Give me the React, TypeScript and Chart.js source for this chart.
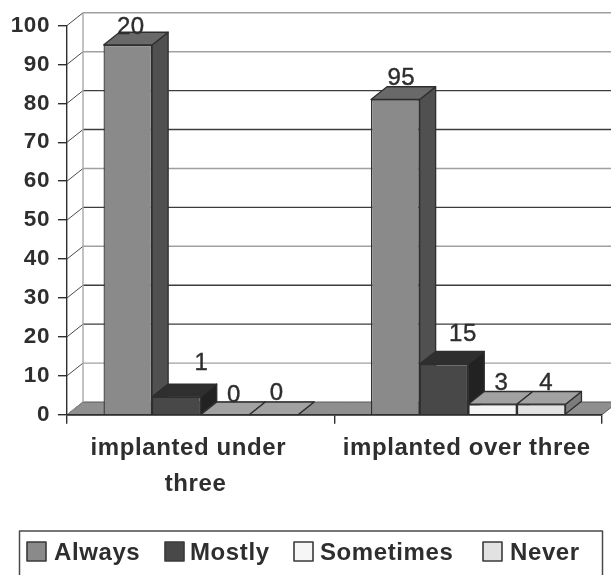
import React, { useEffect, useRef } from "react";
import { Chart, registerables } from "chart.js";

Chart.register(...registerables);

const categories = [["implanted under   ", "three "], "implanted over three"];
const seriesNames = ["Always", "Mostly", "Sometimes", "Never"];
const always = [95, 81];
const mostly = [4.6, 13];
const sometimes = [0, 2.7];
const never = [0, 2.7];
const alwaysCounts = ["20", "95"];
const mostlyCounts = ["1", "15"];
const sometimesCounts = ["0", "3"];
const neverCounts = ["0", "4"];
const yTicks = [0, 10, 20, 30, 40, 50, 60, 70, 80, 90, 100];

const FONT = "'Liberation Sans', Arial, sans-serif";
const INK = "#2e2e2e";
const DEPTH_X = 16;
const DEPTH_Y = 12.7;
const faces = [
  { front: "#8a8a8a", top: "#696969", side: "#505050" },
  { front: "#484848", top: "#2f2f2f", side: "#222222" },
  { front: "#f6f6f6", top: "#a2a2a2", side: "#7c7c7c" },
  { front: "#e2e2e2", top: "#a2a2a2", side: "#7c7c7c" },
];
const gridColor = (v: number) => ([100, 90, 60, 40, 10].includes(v) ? "#a0a0a0" : "#3c3c3c");
const nudges: Record<string, [number, number]> = {
  "0-0": [3, -18], "1-0": [25, -33], "2-0": [9, -19], "3-0": [3, -21],
  "0-1": [6, -21], "1-1": [19, -30], "2-1": [9, -21], "3-1": [5, -21],
};
const legendSlots = [
  { box: 27, text: 54 }, { box: 165, text: 190 }, { box: 294, text: 320 }, { box: 483, text: 510 },
];

function poly(ctx: CanvasRenderingContext2D, pts: number[][], fill: string, stroke = INK, lw = 1.3) {
  ctx.beginPath();
  pts.forEach(([x, y], i) => (i ? ctx.lineTo(x, y) : ctx.moveTo(x, y)));
  ctx.closePath();
  ctx.fillStyle = fill;
  ctx.fill();
  ctx.strokeStyle = stroke;
  ctx.lineWidth = lw;
  ctx.stroke();
}

const walls3d = {
  id: "walls3d",
  beforeDraw(chart: any) {
    chart.ctx.letterSpacing = "0.6px";
  },
  beforeDatasetsDraw(chart: any) {
    const { ctx, chartArea: a, scales } = chart;
    const y = scales.y;
    ctx.save();
    ctx.lineCap = "butt";
    const y0 = y.getPixelForValue(0);
    poly(ctx, [[a.left, y0], [a.right, y0], [a.right + DEPTH_X, y0 - DEPTH_Y], [a.left + DEPTH_X, y0 - DEPTH_Y]], "#8f8f8f", "#5a5a5a", 1);
    yTicks.forEach((v) => {
      const p = y.getPixelForValue(v);
      if (v > 0) {
        ctx.strokeStyle = gridColor(v);
        ctx.lineWidth = 1.4;
        ctx.beginPath();
        ctx.moveTo(a.left + DEPTH_X, p - DEPTH_Y);
        ctx.lineTo(a.right + DEPTH_X, p - DEPTH_Y);
        ctx.stroke();
      }
      ctx.strokeStyle = v === 0 ? "#8a8a8a" : "#4a4a4a";
      ctx.lineWidth = 1;
      ctx.beginPath();
      ctx.moveTo(a.left, p);
      ctx.lineTo(a.left + DEPTH_X, p - DEPTH_Y);
      ctx.stroke();
    });
    ctx.strokeStyle = "#a8a8a8";
    ctx.lineWidth = 1.4;
    ctx.beginPath();
    ctx.moveTo(a.left + DEPTH_X, y.getPixelForValue(100) - DEPTH_Y);
    ctx.lineTo(a.left + DEPTH_X, y0 - DEPTH_Y);
    ctx.stroke();
    ctx.restore();
  },
  // the library would paint the series last-to-first; 3D bars need first-to-last
  beforeDatasetDraw() {
    return false;
  },
  afterDatasetsDraw(chart: any) {
    const { ctx, scales } = chart;
    const counts = [alwaysCounts, mostlyCounts, sometimesCounts, neverCounts];
    ctx.save();
    ctx.lineJoin = "round";
    seriesNames.forEach((_, i) => {
      const meta = chart.getDatasetMeta(i);
      const f = faces[i];
      meta.data.forEach((bar: any) => {
        const l = bar.x - bar.width / 2;
        const r = bar.x + bar.width / 2;
        const t = bar.y;
        const b = bar.base;
        poly(ctx, [[r, t], [r + DEPTH_X, t - DEPTH_Y], [r + DEPTH_X, b - DEPTH_Y], [r, b]], f.side);
        poly(ctx, [[l, t], [r, t], [r + DEPTH_X, t - DEPTH_Y], [l + DEPTH_X, t - DEPTH_Y]], f.top);
      });
      meta.controller.draw();
    });
    // front baseline of the floor
    ctx.strokeStyle = INK;
    ctx.lineWidth = 1.4;
    ctx.beginPath();
    ctx.moveTo(chart.chartArea.left, scales.y.getPixelForValue(0));
    ctx.lineTo(chart.chartArea.right, scales.y.getPixelForValue(0));
    ctx.stroke();
    // value labels
    ctx.font = `24px ${FONT}`;
    ctx.textAlign = "center";
    ctx.textBaseline = "middle";
    ctx.fillStyle = INK;
    ctx.strokeStyle = INK;
    ctx.lineWidth = 0.4;
    counts.forEach((list, s) => {
      const meta = chart.getDatasetMeta(s);
      list.forEach((label, c) => {
        const [dx, dy] = nudges[`${s}-${c}`];
        ctx.fillText(label, meta.data[c].x + dx, meta.data[c].y + dy);
        ctx.strokeText(label, meta.data[c].x + dx, meta.data[c].y + dy);
      });
    });
    // legend
    const top = 531;
    ctx.strokeStyle = "#4a4a4a";
    ctx.lineWidth = 1.5;
    ctx.strokeRect(19.5, top, 583, 60);
    ctx.font = `bold 24px ${FONT}`;
    ctx.textAlign = "left";
    seriesNames.forEach((name, i) => {
      const s = legendSlots[i];
      ctx.fillStyle = faces[i].front;
      ctx.strokeStyle = "#3a3a3a";
      ctx.lineWidth = 1.6;
      ctx.fillRect(s.box, 542, 19, 19);
      ctx.strokeRect(s.box, 542, 19, 19);
      ctx.fillStyle = INK;
      ctx.fillText(name, s.text, 553);
    });
    ctx.restore();
  },
};

export default function App() {
  const ref = useRef<HTMLCanvasElement>(null);
  useEffect(() => {
    const values = [always, mostly, sometimes, never];
    const chart = new Chart(ref.current!, {
      type: "bar",
      data: {
        labels: categories as any,
        datasets: seriesNames.map((label, i) => ({
          label,
          data: values[i],
          backgroundColor: faces[i].front,
          borderColor: INK,
          borderWidth: 1.3,
          categoryPercentage: 0.727,
          barPercentage: 1,
          clip: false as any,
        })),
      },
      options: {
        responsive: false,
        animation: false,
        layout: { padding: { top: 25.5, right: 9, left: 0, bottom: 0 } },
        plugins: { legend: { display: false }, tooltip: { enabled: false } },
        scales: {
          x: {
            afterFit: (s: any) => { s.height = 160.3; },
            grid: { drawOnChartArea: false, offset: true, tickLength: 9, color: INK, lineWidth: 1.4 },
            border: { color: INK, width: 1.4 },
            ticks: {
              autoSkip: false, maxRotation: 0, minRotation: 0, padding: 7, labelOffset: -1.5, color: INK,
              font: { family: FONT, size: 24, weight: "bold", lineHeight: 36 / 24 },
            },
          },
          y: {
            min: 0,
            max: 100,
            afterFit: (s: any) => { s.width = 67; },
            grid: { drawOnChartArea: false, tickLength: 9, color: INK, lineWidth: 1.4 },
            border: { color: INK, width: 1.4 },
            ticks: {
              stepSize: 10, padding: 8, color: INK,
              font: { family: FONT, size: 22.5, weight: "bold" },
            },
          },
        },
      },
      plugins: [walls3d],
    } as any);
    return () => chart.destroy();
  }, []);
  return (
    <canvas
      ref={ref}
      width={611}
      height={575}
      style={{ position: "fixed", left: 0, top: 0, width: 611, height: 575, filter: "blur(0.5px)" }}
    />
  );
}
